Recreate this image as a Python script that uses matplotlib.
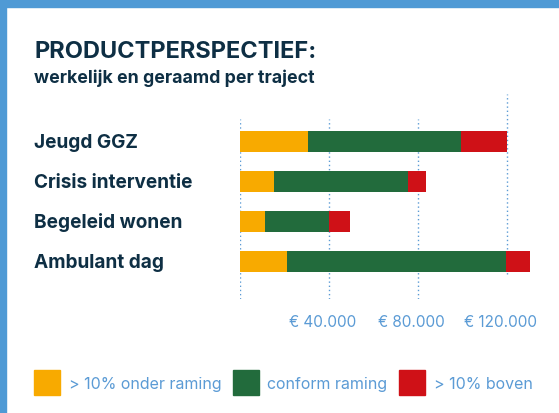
import matplotlib.pyplot as plt
import matplotlib.transforms as mtransforms
from matplotlib.patches import Patch, Rectangle

# data (euro per traject)
categories = ['Jeugd GGZ', 'Crisis interventie', 'Begeleid wonen', 'Ambulant dag']
onder = [30500, 15000, 11000, 21000]      # > 10% onder raming
conform = [69000, 60500, 29000, 98500]    # conform raming
boven = [20500, 8000, 9500, 11000]        # > 10% boven
tick_values = [40000, 80000, 120000]
tick_labels = ['€ 40.000', '€ 80.000', '€ 120.000']
legend_labels = ['> 10% onder raming', 'conform raming', '> 10% boven']

ORANGE = '#F8AA00'
GREEN = '#226B3C'
RED = '#CF1117'
NAVY = '#0E2F44'
LIGHTBLUE = '#5B9BD5'
FRAME = '#4F9AD5'

plt.rcParams['font.family'] = ['Inter', 'DejaVu Sans']

W, H = 559, 414
fig = plt.figure(figsize=(W / 100, H / 100), dpi=100)

# blue frame on top and left
fig.patches.append(Rectangle((0, 1 - 8 / H), 1, 8 / H, transform=fig.transFigure,
                             color=FRAME, zorder=0))
fig.patches.append(Rectangle((0, 0), 6 / W, 1, transform=fig.transFigure,
                             color=FRAME, zorder=0))

# titles
fig.text(34 / W, 1 - 52 / H, 'PRODUCTPERSPECTIEF:', fontsize=17, fontweight='bold',
         color=NAVY, va='center', ha='left')
fig.text(34 / W, 1 - 78.5 / H, 'werkelijk en geraamd per traject', fontsize=12.8,
         fontweight='bold', color=NAVY, va='center', ha='left')

# axes: x=0 at px 240.3, 2.2225 px per 1000
left_px, top_px, bottom_px = 240.3, 95, 300
xmax = 135000
right_px = left_px + xmax / 1000 * 2.2225
ax = fig.add_axes([left_px / W, 1 - bottom_px / H, (right_px - left_px) / W,
                   (bottom_px - top_px) / H])
ax.set_xlim(0, xmax)
ax.set_ylim(3.9375, -1.1875)
for s in ax.spines.values():
    s.set_visible(False)

y = list(range(len(categories)))
h = 0.52
ax.barh(y, onder, height=h, color=ORANGE, zorder=3)
ax.barh(y, conform, left=onder, height=h, color=GREEN, zorder=3)
left3 = [a + b for a, b in zip(onder, conform)]
ax.barh(y, boven, left=left3, height=h, color=RED, zorder=3)

# dotted grid lines
span = bottom_px - top_px
for i, v in enumerate([0] + tick_values):
    if i == len(tick_values):
        lo, hi = (bottom_px - 275) / span, 1
    else:
        lo, hi = 0, (bottom_px - 120) / span
    ax.axvline(v, ymin=lo, ymax=hi, color=LIGHTBLUE, lw=1, ls=(0, (1, 2)), zorder=1)

ax.set_xticks(tick_values)
ax.set_xticklabels(tick_labels, color=LIGHTBLUE, fontsize=11)
ax.tick_params(axis='x', length=0, pad=10.5)
ax.set_yticks([])
offset = mtransforms.ScaledTranslation(-7 / 100, 0, fig.dpi_scale_trans)
for lab in ax.get_xticklabels():
    lab.set_transform(lab.get_transform() + offset)

# category labels at left
trans = mtransforms.blended_transform_factory(fig.transFigure, ax.transData)
for i, name in enumerate(categories):
    ax.text(34 / W, i, name, transform=trans, fontsize=13.7, fontweight='bold',
            color=NAVY, va='center', ha='left')

# legend
handles = [Patch(color=c) for c in (ORANGE, GREEN, RED)]
fig.legend(handles, legend_labels, loc='center left', bbox_to_anchor=(34 / W, 1 - 383.7 / H),
           ncol=3, frameon=False, fontsize=11.5, labelcolor=LIGHTBLUE,
           handlelength=1.62, handleheight=1.98, handletextpad=0.55,
           columnspacing=0.72, borderpad=0, borderaxespad=0)

fig.savefig('out.png', dpi=100, facecolor='white')
